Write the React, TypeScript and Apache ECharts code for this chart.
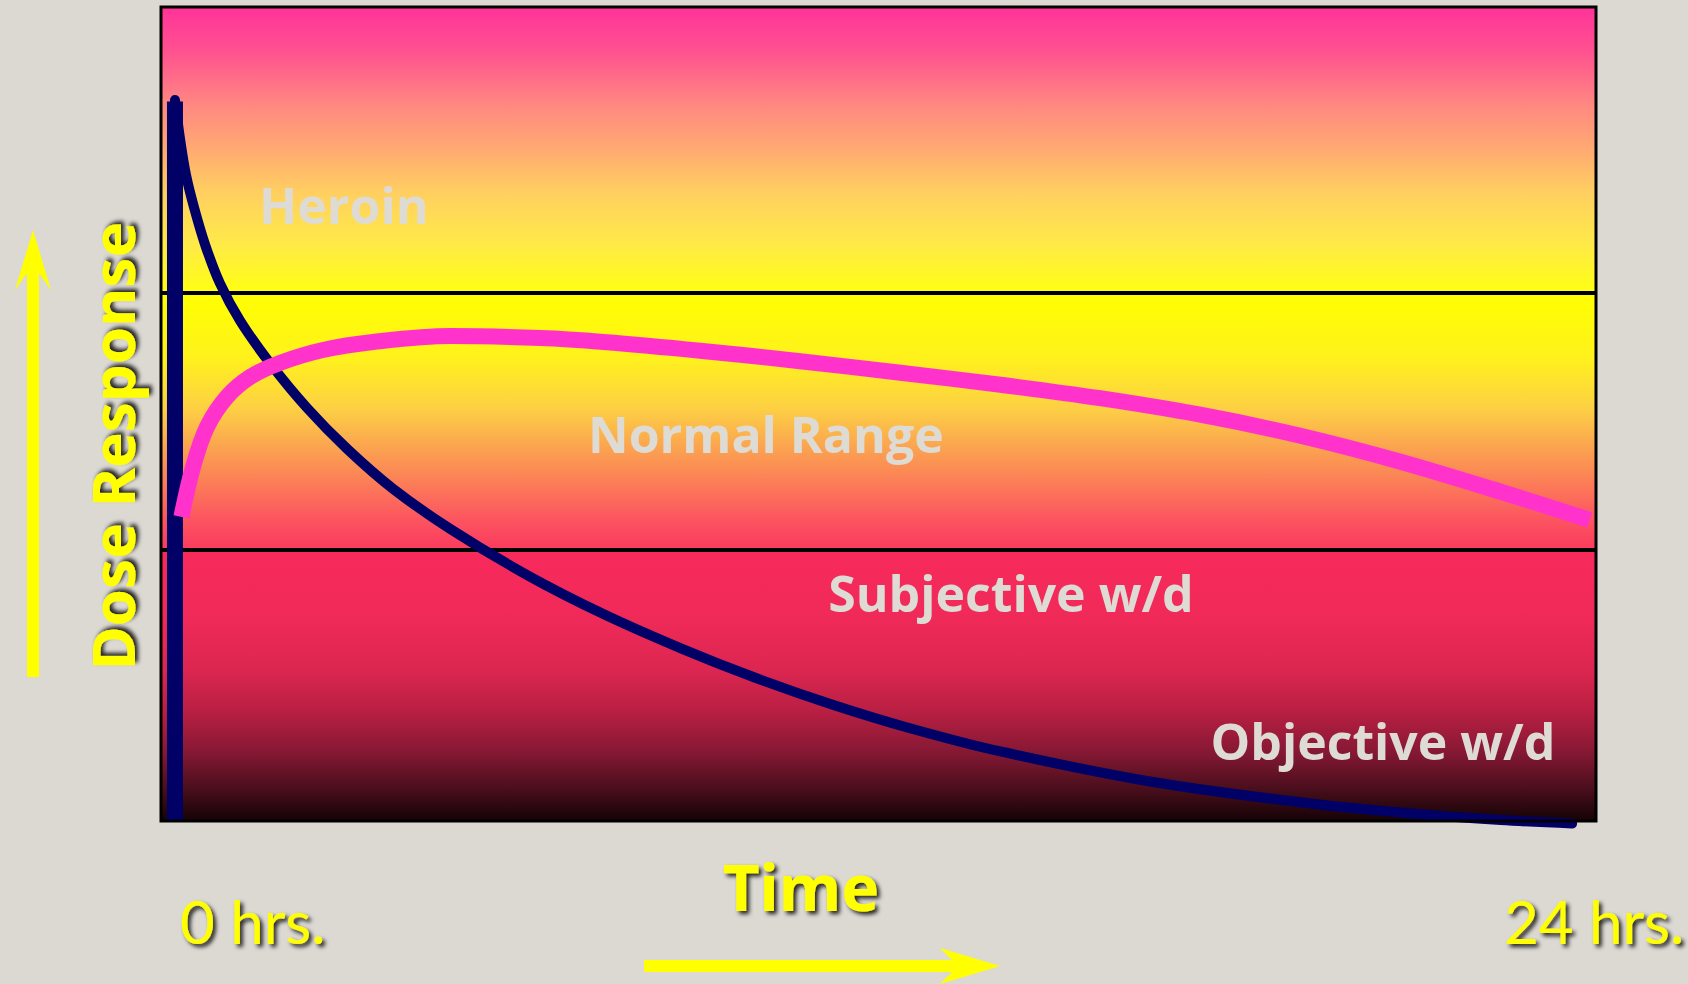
import React, { useEffect, useRef } from "react";
import * as echarts from "echarts";

// ---- data (hours after dose, response level 0-100) ----
const heroinHours = [0.02, 0.11, 0.21, 0.35, 0.54, 0.79, 1.14, 1.65, 2.29, 2.98, 3.77, 4.75, 6.07, 7.38, 8.7, 10.0, 11.33, 12.63, 14.2, 16.82, 19.45, 21.07, 22.79, 24.02];
const heroinLevel = [88.57, 83.66, 79.36, 75.31, 70.76, 66.09, 61.43, 56.27, 50.74, 45.7, 40.79, 35.87, 30.22, 25.43, 21.25, 17.57, 14.25, 11.43, 8.54, 4.79, 2.21, 1.04, 0.12, -0.31];

const methadoneHours = [0.13, 0.33, 0.57, 0.91, 1.31, 1.82, 2.56, 3.42, 4.75, 6.3, 7.38, 9.04, 10.76, 12.48, 14.2, 15.91, 17.63, 19.35, 21.07, 22.79, 24.32];
const methadoneLevel = [37.35, 43.49, 48.4, 52.09, 54.55, 56.27, 57.86, 58.85, 59.58, 59.34, 58.85, 57.78, 56.49, 55.07, 53.6, 51.94, 49.91, 47.33, 44.14, 40.45, 36.98];

const spikeHours = [0.02, 0.02];
const spikeLevel = [0, 88.4];

const zoneBounds = [0, 33.3, 64.9, 100];
const zoneNames = ["Objective w/d", "Subjective w/d", "Normal Range", "Heroin"];
const zoneLabelHours = [20.77, 14.38, 10.17, 2.92];
const zoneLabelLevels = [9.8, 28.0, 47.6, 75.7];

const xMin = -0.22;
const xMax = 24.43;

const yellowShadow = {
  textShadowColor: "rgba(0,0,0,0.85)",
  textShadowBlur: 4,
  textShadowOffsetX: 3,
  textShadowOffsetY: 3,
};

const grad = (stops: [number, string][]) => ({
  type: "linear",
  x: 0,
  y: 0,
  x2: 0,
  y2: 1,
  colorStops: stops.map(([offset, color]) => ({ offset, color })),
});

const zoneGradients = [
  grad([
    [0, "#f72a5c"],
    [0.25, "#f02a58"],
    [0.45, "#da2650"],
    [0.6, "#b81f42"],
    [0.75, "#841833"],
    [0.88, "#4a0e1c"],
    [1, "#140305"],
  ]),
  grad([
    [0, "#ffff00"],
    [0.25, "#fff21c"],
    [0.45, "#fdd044"],
    [0.6, "#fba450"],
    [0.75, "#fc7a58"],
    [0.88, "#fc5560"],
    [1, "#fb3a5e"],
  ]),
  grad([
    [0, "#ff3399"],
    [0.15, "#ff5090"],
    [0.35, "#ff8a80"],
    [0.5, "#ffaa72"],
    [0.65, "#ffcf60"],
    [0.82, "#ffe84a"],
    [1, "#ffff12"],
  ]),
];

export default function App() {
  const ref = useRef<HTMLDivElement>(null);

  useEffect(() => {
    document.body.style.margin = "0";
    const chart = echarts.init(ref.current!, null, { renderer: "svg" });

    const staticGraphics: any[] = [
      {
        type: "text",
        x: 112,
        y: 446,
        rotation: Math.PI / 2,
        style: {
          text: "Dose Response",
          fill: "#ffff00",
          font: "bold 60px 'Noto Sans'",
          align: "center",
          verticalAlign: "middle",
          ...yellowShadow,
        },
      },
      {
        type: "text",
        x: 801,
        y: 886,
        style: {
          text: "Time",
          fill: "#ffff00",
          font: "bold 64px 'Noto Sans'",
          align: "center",
          verticalAlign: "middle",
          ...yellowShadow,
        },
      },
      {
        type: "text",
        x: 180,
        y: 921,
        style: {
          text: "0 hrs.",
          fill: "#ffff00",
          font: "60px Lato",
          align: "left",
          verticalAlign: "middle",
          ...yellowShadow,
        },
      },
      {
        type: "text",
        x: 1504,
        y: 921,
        style: {
          text: "24 hrs.",
          fill: "#ffff00",
          font: "60px Lato",
          align: "left",
          verticalAlign: "middle",
          ...yellowShadow,
        },
      },
      {
        type: "polygon",
        shape: {
          points: [
            [33, 230],
            [51, 290],
            [39, 273],
            [39, 677],
            [27, 677],
            [27, 273],
            [15, 290],
          ],
        },
        style: { fill: "#ffff00" },
      },
      {
        type: "polygon",
        shape: {
          points: [
            [644, 960],
            [952, 960],
            [940, 948],
            [1000, 966],
            [940, 984],
            [952, 972],
            [644, 972],
          ],
        },
        style: { fill: "#ffff00" },
      },
    ];

    const option: any = {
      animation: false,
      backgroundColor: "#dcd9d3",
      grid: {
        left: 161,
        top: 7,
        right: 92,
        bottom: 163,
        show: true,
        z: 10,
        borderColor: "#000",
        borderWidth: 3,
        backgroundColor: "rgba(0,0,0,0)",
      },
      xAxis: {
        type: "value",
        min: xMin,
        max: xMax,
        axisLine: { show: false },
        axisTick: { show: false },
        axisLabel: { show: false },
        splitLine: { show: false },
      },
      yAxis: {
        type: "value",
        min: 0,
        max: 100,
        axisLine: { show: false },
        axisTick: { show: false },
        axisLabel: { show: false },
        splitLine: { show: false },
      },
      series: [
        {
          type: "line",
          name: "zones",
          data: spikeHours.map((h, i) => [h, spikeLevel[i]]),
          showSymbol: false,
          symbol: "none",
          z: 3,
          lineStyle: { color: "#000066", width: 16, cap: "butt" },
          markArea: {
            silent: true,
            z: 1,
            data: zoneGradients.map((g, i) => [
              { xAxis: xMin, yAxis: zoneBounds[i], itemStyle: { color: g } },
              { xAxis: xMax, yAxis: zoneBounds[i + 1] },
            ]),
          },
          markLine: {
            silent: true,
            z: 2,
            symbol: "none",
            label: { show: false },
            lineStyle: { color: "#000", width: 4, type: "solid" },
            data: [{ yAxis: zoneBounds[1] }, { yAxis: zoneBounds[2] }],
          },
        },
        {
          type: "line",
          name: "Heroin",
          data: heroinHours.map((h, i) => [h, heroinLevel[i]]),
          smooth: 0.35,
          showSymbol: false,
          symbol: "none",
          clip: false,
          z: 4,
          lineStyle: { color: "#000066", width: 10, cap: "round", join: "round" },
        },
        {
          type: "line",
          name: "Methadone",
          data: methadoneHours.map((h, i) => [h, methadoneLevel[i]]),
          smooth: 0.35,
          showSymbol: false,
          symbol: "none",
          clip: false,
          z: 5,
          lineStyle: { color: "#ff33cc", width: 16, cap: "butt", join: "round" },
        },
      ],
      graphic: staticGraphics,
    };

    chart.setOption(option);

    // zone names placed at data coordinates
    const labelGraphics = zoneNames.map((n, i) => {
      const p = chart.convertToPixel({ gridIndex: 0 }, [zoneLabelHours[i], zoneLabelLevels[i]]) as number[];
      return {
        type: "text",
        x: p[0],
        y: p[1],
        z: 20,
        silent: true,
        style: {
          text: n,
          fill: "#dedbd5",
          font: "bold 50px 'Open Sans'",
          align: "center",
          verticalAlign: "middle",
        },
      };
    });
    chart.setOption({ graphic: [...staticGraphics, ...labelGraphics] });

    return () => chart.dispose();
  }, []);

  return <div ref={ref} style={{ width: 1688, height: 984 }} />;
}
